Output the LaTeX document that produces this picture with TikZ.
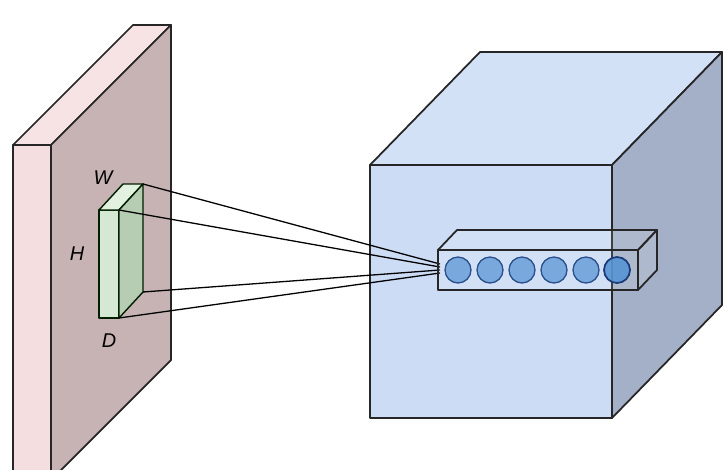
\documentclass[tikz,border=0pt]{standalone}
\usepackage{fontspec}
\setmainfont{Liberation Sans}
\usetikzlibrary{positioning}
\definecolor{slabfront}{HTML}{F5DEDF}
\definecolor{slabtop}{HTML}{F7E3E3}
\definecolor{slabside}{HTML}{C7B3B3}
\definecolor{filtfront}{HTML}{D5E8D4}
\definecolor{filttop}{HTML}{E3F1E0}
\definecolor{filtside}{HTML}{B6CCB3}
\definecolor{cubefront}{HTML}{CCDCF5}
\definecolor{cubetop}{HTML}{D3E1F6}
\definecolor{cubeside}{HTML}{A3B0C8}
\definecolor{unitfill}{HTML}{6FA3DA}
\definecolor{unitedge}{HTML}{2B4F8C}
\definecolor{lastfill}{HTML}{5694D2}
\definecolor{lastedge}{HTML}{1C3A78}
\tikzset{
  face/.style={draw=black!85,line width=1.5pt,line join=round},
  filtface/.style={draw=black!70!green!40!black,line width=1.2pt,line join=round},
  barface/.style={draw=black!85,line width=1.5pt,line join=round,fill=white,fill opacity=0.12},
  unit/.style={circle,draw=unitedge,line width=1.1pt,fill=unitfill,fill opacity=0.9,minimum size=0.78cm,inner sep=0pt},
  lastunit/.style={unit,draw=lastedge,fill=lastfill,line width=1.5pt},
  dimlabel/.style={font=\fontsize{17}{20}\selectfont\itshape,inner sep=0pt},
  rfline/.style={draw=black,line width=1.1pt}
}

\begin{document}
\begin{tikzpicture}[x=0.03cm,y=-0.03cm]
  \useasboundingbox (0,0) rectangle (728,469);
  \clip (0,0) rectangle (728,469);
  % input slab
  \filldraw[face,fill=slabfront] (13,145) -- (51,145) -- (51,480) -- (13,480) -- cycle;
  \filldraw[face,fill=slabtop] (13,145) -- (133,25) -- (171,25) -- (51,145) -- cycle;
  \filldraw[face,fill=slabside] (51,145) -- (171,25) -- (171,360) -- (51,480) -- cycle;
  % filter (receptive field)
  \filldraw[filtface,fill=filtfront] (99,210) -- (119,210) -- (119,318) -- (99,318) -- cycle;
  \filldraw[filtface,fill=filttop] (99,210) -- (123,184) -- (143,184) -- (119,210) -- cycle;
  \filldraw[filtface,fill=filtside] (119,210) -- (143,184) -- (143,292) -- (119,318) -- cycle;
  \coordinate (fTB) at (143,184);
  \coordinate (fTF) at (119,210);
  \coordinate (fBB) at (143,292);
  \coordinate (fBF) at (119,318);
  \node[dimlabel] (lblW) at (103,178) {W};
  \node[dimlabel] (lblH) at (77,254) {H};
  \node[dimlabel] (lblD) at (109,341) {D};
  % output volume
  \filldraw[face,fill=cubefront] (370,165) -- (612,165) -- (612,418) -- (370,418) -- cycle;
  \filldraw[face,fill=cubetop] (370,165) -- (480,52) -- (722,52) -- (612,165) -- cycle;
  \filldraw[face,fill=cubeside] (612,165) -- (722,52) -- (722,305) -- (612,418) -- cycle;
  % connectors to the depth column
  \coordinate (t1) at (440,264);
  \coordinate (t2) at (440,267);
  \coordinate (t3) at (440,270);
  \coordinate (t4) at (440,273);
  \draw[rfline] (fTB) -- (t1);
  \draw[rfline] (fTF) -- (t2);
  \draw[rfline] (fBB) -- (t3);
  \draw[rfline] (fBF) -- (t4);
  % depth column
  \path[barface] (438,250) -- (638,250) -- (638,290) -- (438,290) -- cycle;
  \path[barface] (438,250) -- (457,230) -- (657,230) -- (638,250) -- cycle;
  \path[barface] (638,250) -- (657,230) -- (657,270) -- (638,290) -- cycle;
  \foreach \i/\x in {1/458,2/490,3/522,4/554,5/586}
    \node[unit] (u\i) at (\x,270) {};
  \node[lastunit] (u6) at (617,270) {};
\end{tikzpicture}
\end{document}
